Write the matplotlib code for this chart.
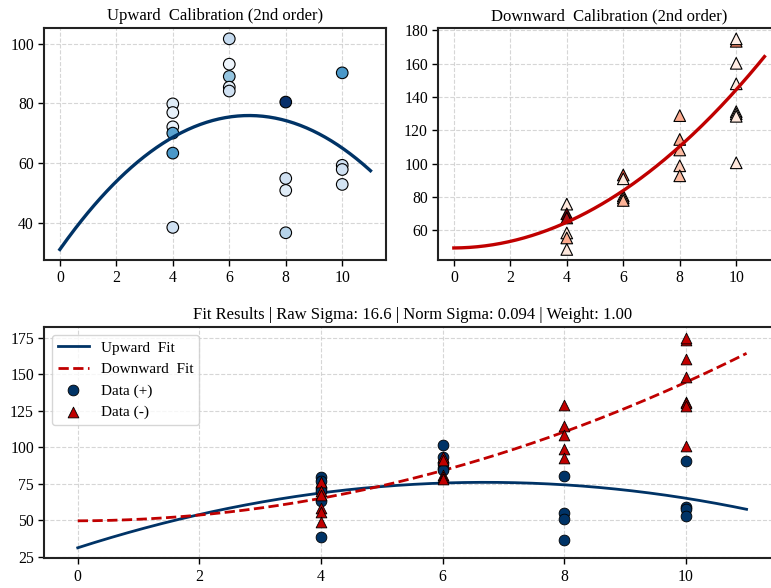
import matplotlib
matplotlib.use("Agg")
import matplotlib.pyplot as plt
import numpy as np

plt.rcParams['font.family'] = ['Liberation Serif', 'DejaVu Serif']
plt.rcParams['font.size'] = 11

# upward calibration data
up_x = [4, 4, 4, 4, 4, 4, 6, 6, 6, 6, 6, 8, 8, 8, 8, 10, 10, 10, 10]
up_y = [79.8, 76.9, 72.1, 70.0, 63.3, 38.4, 101.6, 93.1, 89.0, 85.4, 84.1,
        80.4, 54.8, 50.8, 36.6, 90.2, 59.2, 57.8, 52.8]
up_c = [0.12, 0.08, 0.08, 0.55, 0.6, 0.2, 0.25, 0.05, 0.4, 0.1, 0.2,
        1.0, 0.2, 0.12, 0.3, 0.6, 0.2, 0.2, 0.18]

# downward calibration data
dn_x = [4, 4, 4, 4, 4, 4, 6, 6, 6, 6, 6, 8, 8, 8, 8, 8,
        10, 10, 10, 10, 10, 10, 10, 10]
dn_y = [75.8, 70.0, 67.5, 58.5, 55.5, 48.6, 93.3, 91.0, 80.8, 79.5, 78.0,
        128.9, 114.6, 108.3, 98.8, 92.8,
        173.5, 175.0, 160.3, 148.0, 131.3, 130.0, 128.5, 100.6]
dn_c = [0.08, 1.0, 0.85, 0.1, 0.3, 0.08, 0.55, 0.08, 0.25, 0.3, 0.28,
        0.3, 0.3, 0.25, 0.2, 0.25,
        0.4, 0.05, 0.05, 0.08, 0.1, 0.1, 0.08, 0.08]

# 2nd order fit coefficients (a*x^2 + b*x + c)
up_coef = [-1.0, 13.4, 31.0]
dn_coef = [0.94, 0.1, 49.5]

fit_title = "Fit Results | Raw Sigma: 16.6 | Norm Sigma: 0.094 | Weight: 1.00"

UP_COLOR = '#003366'
DN_COLOR = '#c00000'

xs = np.linspace(0, 11, 200)
up_fit = np.polyval(up_coef, xs)
dn_fit = np.polyval(dn_coef, xs)

W, H = 771, 588
fig = plt.figure(figsize=(W / 100, H / 100), dpi=100)


def px_axes(left, top, right, bottom):
    return fig.add_axes([left / W, 1 - bottom / H, (right - left) / W, (bottom - top) / H])


def style(ax):
    ax.grid(True, linestyle='--', color='#cccccc', alpha=0.8, linewidth=0.8)
    ax.set_axisbelow(True)
    for s in ax.spines.values():
        s.set_linewidth(1.5)
        s.set_color('#222222')
    ax.tick_params(labelsize=11.3, length=4, width=1)
    ax.set_xticks([0, 2, 4, 6, 8, 10])


ax1 = px_axes(44.3, 28.3, 386, 260)
ax1.scatter(up_x, up_y, c=up_c, cmap='Blues', vmin=0, vmax=1, s=70,
            edgecolors='black', linewidths=0.8, zorder=2)
ax1.plot(xs, up_fit, color=UP_COLOR, lw=2.4, zorder=3)
ax1.set_title("Upward  Calibration (2nd order)", fontsize=12)
style(ax1)

ax2 = px_axes(438.3, 28.3, 780, 260)
ax2.scatter(dn_x, dn_y, c=dn_c, cmap='Reds', vmin=0, vmax=1, s=70, marker='^',
            edgecolors='black', linewidths=0.8, zorder=2)
ax2.plot(xs, dn_fit, color=DN_COLOR, lw=2.4, zorder=3)
ax2.set_title("Downward  Calibration (2nd order)", fontsize=12)
style(ax2)

ax3 = px_axes(44.3, 327.3, 780, 558.3)
ax3.plot(xs, up_fit, color=UP_COLOR, lw=2, label="Upward  Fit")
ax3.plot(xs, dn_fit, color=DN_COLOR, lw=2, ls='--', label="Downward  Fit")
ax3.scatter(up_x, up_y, color=UP_COLOR, s=60, edgecolors='black', linewidths=0.6,
            zorder=3, label="Data (+)")
ax3.scatter(dn_x, dn_y, color=DN_COLOR, s=60, marker='^', edgecolors='black',
            linewidths=0.6, zorder=4, label="Data (-)")
ax3.set_title(fit_title, fontsize=12)
ax3.set_yticks([25, 50, 75, 100, 125, 150, 175])
ax3.legend(loc='upper left', fontsize=11)
style(ax3)

fig.savefig('out.png', dpi=100)
